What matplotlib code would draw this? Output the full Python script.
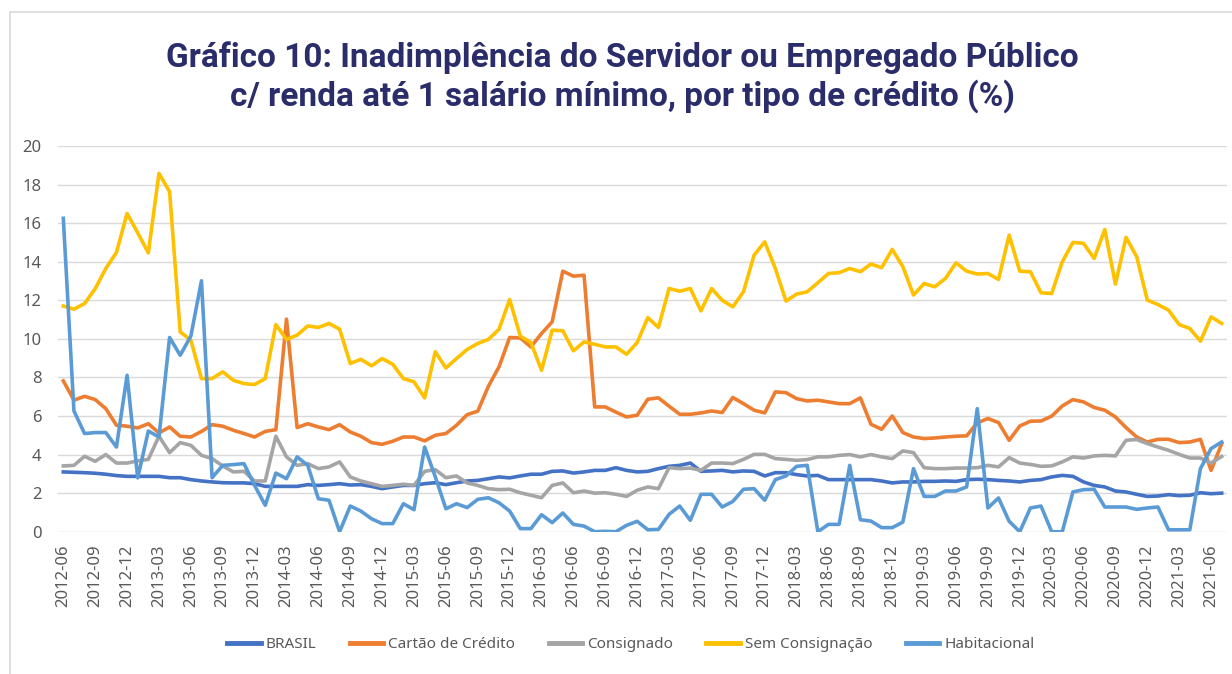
import pandas as pd
import matplotlib.pyplot as plt
from matplotlib.lines import Line2D

# monthly series, 2012-06 to 2021-07 (%)
brasil = [3.1, 3.08, 3.06, 3.03, 2.98, 2.91, 2.87, 2.87, 2.87, 2.87, 2.8, 2.8, 2.7, 2.63, 2.58, 2.54, 2.53, 2.53, 2.49, 2.35,
          2.35, 2.35, 2.35, 2.44, 2.4, 2.44, 2.49, 2.42,
          2.44, 2.35, 2.23, 2.32, 2.4, 2.4, 2.49, 2.54, 2.44, 2.54, 2.63, 2.66, 2.75, 2.84, 2.79, 2.89, 2.98, 2.98, 3.13, 3.15,
          3.04, 3.1, 3.18, 3.18, 3.32, 3.18,
          3.1, 3.13, 3.27, 3.39, 3.44, 3.56, 3.13, 3.15, 3.18, 3.1, 3.15, 3.13, 2.89, 3.06, 3.06, 2.96, 2.89, 2.92, 2.7, 2.7,
          2.7, 2.7, 2.7, 2.63, 2.53, 2.58,
          2.58, 2.61, 2.61, 2.63, 2.61, 2.7, 2.72, 2.7, 2.66, 2.63, 2.58, 2.66, 2.7, 2.84, 2.92, 2.87, 2.58, 2.4, 2.32, 2.11,
          2.06, 1.94, 1.83, 1.85, 1.92, 1.87, 1.89, 2.02, 1.97, 2.0]
cartao = [7.82, 6.82, 7.02, 6.85, 6.38, 5.52, 5.47, 5.38, 5.6, 5.12, 5.43, 4.95, 4.91, 5.2, 5.55, 5.47, 5.26, 5.09, 4.91, 5.2,
          5.29, 11.02, 5.4, 5.6, 5.43, 5.29, 5.55, 5.17,
          4.95, 4.62, 4.53, 4.69, 4.91, 4.91, 4.71, 5.0, 5.09, 5.52, 6.07, 6.25, 7.54, 8.55, 10.07, 10.05, 9.58, 10.28, 10.88,
          13.51, 13.25, 13.3, 6.47, 6.47, 6.2, 5.95,
          6.04, 6.87, 6.94, 6.51, 6.09, 6.09, 6.16, 6.26, 6.18, 6.96, 6.64, 6.3, 6.16, 7.25, 7.21, 6.9, 6.78, 6.82, 6.73, 6.64,
          6.64, 6.94, 5.57, 5.31, 6.0, 5.14,
          4.91, 4.83, 4.86, 4.91, 4.95, 4.97, 5.64, 5.87, 5.66, 4.74, 5.48, 5.73, 5.74, 5.99, 6.52, 6.85, 6.73, 6.44, 6.3, 5.95,
          5.4, 4.91, 4.65, 4.79, 4.79, 4.62, 4.65, 4.79, 3.18, 4.56]
consignado = [3.41, 3.44, 3.91, 3.65, 4.0, 3.56, 3.56, 3.67, 3.75, 4.95, 4.1, 4.62, 4.48, 3.96, 3.79, 3.41, 3.1, 3.13, 2.63,
              2.63, 4.95, 3.88, 3.44, 3.53, 3.27, 3.36, 3.62, 2.84,
              2.63, 2.49, 2.35, 2.4, 2.46, 2.4, 3.13, 3.22, 2.8, 2.89, 2.53, 2.4, 2.23, 2.18, 2.2, 2.02, 1.89, 1.76, 2.4, 2.53,
              2.02, 2.11, 2.0, 2.02, 1.94, 1.83,
              2.15, 2.32, 2.23, 3.32, 3.27, 3.3, 3.18, 3.56, 3.56, 3.53, 3.75, 4.01, 4.01, 3.79, 3.75, 3.7, 3.74, 3.88, 3.88,
              3.96, 4.0, 3.88, 4.0, 3.88, 3.79, 4.19,
              4.1, 3.32, 3.27, 3.27, 3.3, 3.3, 3.32, 3.44, 3.36, 3.84, 3.56, 3.49, 3.39, 3.41, 3.62, 3.88, 3.82, 3.93, 3.96, 3.93,
              4.74, 4.78, 4.57, 4.39, 4.22, 4.01, 3.82, 3.82, 3.56, 3.9]
sem_consig = [11.7, 11.54, 11.83, 12.6, 13.65, 14.48, 16.5, 15.5, 14.46, 18.58, 17.63, 10.36, 9.93, 7.94, 7.94, 8.29, 7.85,
              7.68, 7.63, 7.94, 10.74, 9.97, 10.19, 10.67, 10.59, 10.8, 10.5, 8.72,
              8.94, 8.6, 8.98, 8.68, 7.94, 7.77, 6.94, 9.33, 8.49, 8.98, 9.45, 9.76, 9.97, 10.5, 12.04, 10.14, 9.81, 8.37, 10.45,
              10.42, 9.38, 9.84, 9.72, 9.58, 9.58, 9.2,
              9.81, 11.1, 10.59, 12.61, 12.47, 12.61, 11.45, 12.61, 12.0, 11.66, 12.44, 14.34, 15.03, 13.65, 11.96, 12.32,
              12.44, 12.91, 13.39, 13.43, 13.65, 13.48, 13.88, 13.69, 14.64, 13.74,
              12.27, 12.87, 12.7, 13.13, 13.94, 13.51, 13.36, 13.39, 13.08, 15.38, 13.51, 13.48, 12.39, 12.35, 14.0, 15.0,
              14.95, 14.17, 15.67, 12.84, 15.26, 14.26, 12.01, 11.78, 11.49, 10.74, 10.54, 9.88, 11.14, 10.8]
habitacional = [16.25, 6.26, 5.09, 5.14, 5.14, 4.39, 8.11, 2.79, 5.22, 4.91, 10.07, 9.15, 10.14, 13.01, 2.8, 3.44, 3.48,
                3.53, 2.4, 1.37, 3.04, 2.75, 3.88, 3.44, 1.71, 1.63, 0.0, 1.33,
                1.07, 0.67, 0.42, 0.42, 1.45, 1.14, 4.39, 2.85, 1.19, 1.45, 1.25, 1.68, 1.76, 1.5, 1.07, 0.16, 0.16, 0.88,
                0.47, 0.97, 0.38, 0.29, 0.0, 0.02, 0.0, 0.33,
                0.54, 0.1, 0.12, 0.9, 1.33, 0.59, 1.94, 1.94, 1.28, 1.57, 2.2, 2.23, 1.63, 2.7, 2.89, 3.39, 3.44, 0.0, 0.38,
                0.38, 3.44, 0.62, 0.55, 0.21, 0.21, 0.5,
                3.27, 1.83, 1.83, 2.11, 2.11, 2.32, 6.38, 1.23, 1.75, 0.54, 0.0, 1.23, 1.33, 0.0, 0.0, 2.06, 2.18, 2.2, 1.28,
                1.28, 1.28, 1.16, 1.23, 1.28, 0.1, 0.1, 0.1, 3.27, 4.31, 4.65]

months = pd.date_range("2012-06-01", periods=len(brasil), freq="MS").strftime("%Y-%m")
series = [
    ("BRASIL", brasil, "#4472C4"),
    ("Cartão de Crédito", cartao, "#ED7D31"),
    ("Consignado", consignado, "#A5A5A5"),
    ("Sem Consignação", sem_consig, "#FFC000"),
    ("Habitacional", habitacional, "#5B9BD5"),
]

plt.rcParams["font.family"] = ["Noto Sans", "DejaVu Sans"]

fig = plt.figure(figsize=(12.32, 6.74), dpi=100)
ax = fig.add_axes([58 / 1232, 1 - 531.7 / 674, 1169 / 1232, (531.7 - 146) / 674])

x = list(range(len(months)))
for name, vals, color in series:
    ax.plot(x, vals, color=color, lw=2.6, label=name, solid_joinstyle="round")

ax.set_ylim(0, 20)
ax.set_yticks(range(0, 21, 2))
ax.set_xlim(-0.5, len(months) - 0.5)
ax.set_xticks(x[::3])
ax.set_xticklabels(months[::3], rotation=90)
ax.grid(axis="y", color="#D9D9D9", lw=1)
ax.set_axisbelow(True)
for s in ax.spines.values():
    s.set_visible(False)
ax.tick_params(length=0, labelsize=12, colors="#595959")
ax.tick_params(axis="x", pad=9)
ax.tick_params(axis="y", pad=12)

fig.text(0.505, 1 - 77 / 674,
         "Gráfico 10: Inadimplência do Servidor ou Empregado Público\nc/ renda até 1 salário mínimo, por tipo de crédito (%)",
         ha="center", va="center", fontsize=24, fontweight="bold", family="Roboto", color="#2B2D6B", linespacing=1.17)

leg = fig.legend(loc="center", bbox_to_anchor=(0.512, 1 - 645 / 674), ncol=5, frameon=False,
                 fontsize=11, handlelength=2.2, columnspacing=2.2, handletextpad=0.3)
for t in leg.get_texts():
    t.set_color("#595959")
for h in leg.legend_handles:
    h.set_linewidth(3.5)

# light border of the original chart box
fig.add_artist(Line2D([10 / 1232, 10 / 1232], [0, 1 - 12 / 674], color="#D9D9D9", lw=1.2))
fig.add_artist(Line2D([10 / 1232, 1], [1 - 12 / 674, 1 - 12 / 674], color="#D9D9D9", lw=1.2))

fig.savefig("out.png", dpi=100)
